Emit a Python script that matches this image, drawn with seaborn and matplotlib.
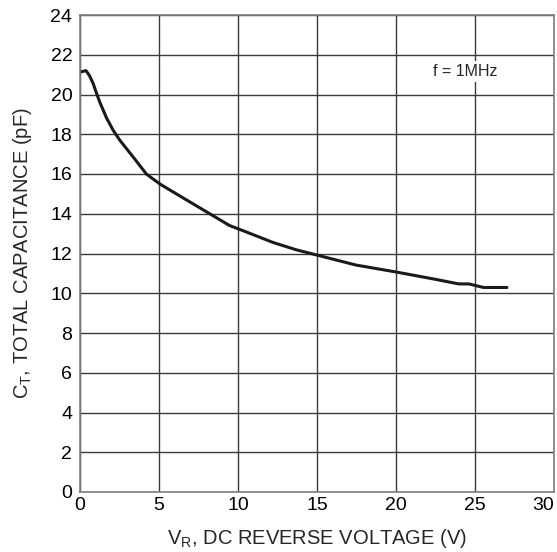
import matplotlib
matplotlib.use("Agg")
import matplotlib.pyplot as plt
import seaborn as sns
import pandas as pd

# Data
reverse_voltage = [0.0, 0.38, 0.6, 0.84, 1.05, 1.26, 1.68, 2.1, 2.52, 3.36, 4.2,
                   5.05, 6.52, 8.0, 9.46, 10.41, 12.2, 13.67, 15.0, 17.46,
                   20.0, 22.5, 23.97, 24.6, 25.55, 27.02]
capacitance = [21.13, 21.2, 20.95, 20.54, 20.05, 19.6, 18.82, 18.2, 17.7, 16.86,
               16.0, 15.5, 14.8, 14.1, 13.41, 13.12, 12.56, 12.19, 11.92,
               11.42, 11.07, 10.7, 10.47, 10.47, 10.29, 10.29]
x_ticks = [0, 5, 10, 15, 20, 25, 30]
y_ticks = [0, 2, 4, 6, 8, 10, 12, 14, 16, 18, 20, 22, 24]

df = pd.DataFrame({"VR": reverse_voltage, "CT": capacitance})

sns.set_style("white")
plt.rcParams['font.family'] = ['Liberation Sans', 'DejaVu Sans']

fig = plt.figure(figsize=(5.57, 5.52), dpi=100)
ax = fig.add_axes([80 / 557, 1 - 492 / 552, 474 / 557, 477 / 552])

sns.lineplot(data=df, x="VR", y="CT", ax=ax, color="#1a1a1a", linewidth=2.2)

ax.set_xlim(0, 30)
ax.set_ylim(0, 24)
ax.set_xticks(x_ticks)
ax.set_yticks(y_ticks)
ax.set_xticklabels([str(t) for t in x_ticks], fontsize=14)
ax.set_yticklabels([str(t) for t in y_ticks], fontsize=14)
ax.get_xticklabels()[-1].set_horizontalalignment('right')
ax.tick_params(axis='x', length=0, pad=3.5, colors='black')
ax.tick_params(axis='y', length=0, pad=5.5, colors='black')

ax.grid(True, color="#3a3a3a", linewidth=1.0)
ax.set_axisbelow(True)
for s in ax.spines.values():
    s.set_color("#808080")
    s.set_linewidth(1.2)

ax.set_xlabel(r"V$_\mathregular{R}$, DC REVERSE VOLTAGE (V)", fontsize=14.5)
ax.set_ylabel(r"C$_\mathregular{T}$, TOTAL CAPACITANCE (pF)", fontsize=14.5)
ax.xaxis.label.set_va('center')
ax.yaxis.label.set_va('center')
ax.xaxis.set_label_coords(0.5, (492 - 538) / 477)
ax.yaxis.set_label_coords((23 - 80) / 474, 0.5)

ax.text(24.4, 21.15, "f = 1MHz", fontsize=11.5, ha='center', va='center',
        bbox=dict(facecolor='white', edgecolor='none', pad=2))

fig.savefig("out.png", dpi=100)
